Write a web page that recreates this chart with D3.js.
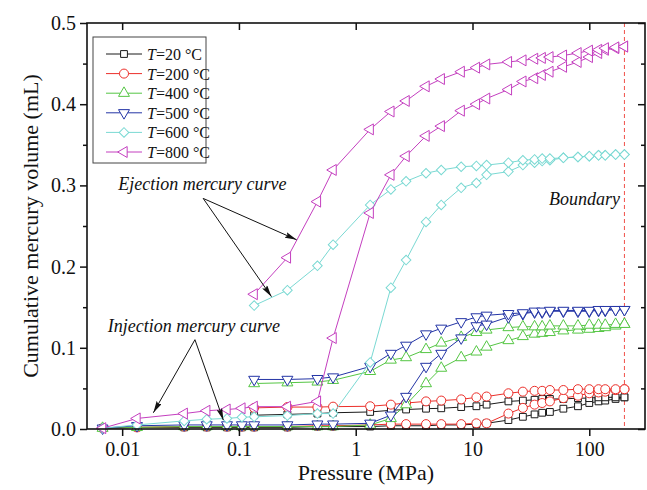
<!DOCTYPE html>
<html>
<head>
<meta charset="utf-8">
<script src="https://cdn.jsdelivr.net/npm/d3@7"></script>
<style>
  body { margin: 0; background: #fff; }
  svg text { font-family: "Liberation Serif", "Times New Roman"; fill: #111; }
</style>
</head>
<body>
<div class="chart"></div>
<script>
// Pressure steps (MPa): extra low steps only exist on the injection run
var pressureLow = [0.0068, 0.0134, 0.034, 0.053, 0.079, 0.106];
var pressureHigh = [0.135, 0.26, 0.47, 0.64, 1.33, 2.0, 2.7, 4.0, 5.4, 8.0, 10.8, 13.2,
  20.3, 27, 34, 39.5, 46, 60, 80, 100, 120, 137, 168, 200];

// Injection (intrusion) volumes, mL, one value per low + high pressure
var injection20 = [0.001, 0.002, 0.002, 0.002, 0.002, 0.002,
  0.002, 0.002, 0.003, 0.003, 0.003, 0.004, 0.004, 0.004, 0.005, 0.005, 0.006, 0.007,
  0.011, 0.015, 0.018, 0.020, 0.021, 0.025, 0.028, 0.032, 0.034, 0.035, 0.037, 0.039];
var injection200 = [0.001, 0.002, 0.003, 0.003, 0.003, 0.003,
  0.003, 0.003, 0.004, 0.004, 0.005, 0.006, 0.006, 0.006, 0.006, 0.006, 0.007, 0.007,
  0.019, 0.026, 0.030, 0.032, 0.034, 0.038, 0.041, 0.044, 0.045, 0.046, 0.048, 0.049];
var injection400 = [0.001, 0.002, 0.003, 0.003, 0.003, 0.003,
  0.003, 0.003, 0.003, 0.003, 0.005, 0.013, 0.030, 0.056, 0.075, 0.088, 0.095, 0.101,
  0.109, 0.114, 0.117, 0.118, 0.119, 0.121, 0.122, 0.123, 0.124, 0.125, 0.127, 0.129];
var injection500 = [0.001, 0.004, 0.005, 0.005, 0.005, 0.005,
  0.005, 0.005, 0.006, 0.006, 0.007, 0.017, 0.040, 0.077, 0.093, 0.112, 0.127, 0.129,
  0.138, 0.142, 0.144, 0.144, 0.145, 0.145, 0.145, 0.145, 0.146, 0.146, 0.147, 0.147];
var injection600 = [0.001, 0.005, 0.010, 0.012, 0.013, 0.0145,
  0.015, 0.0165, 0.019, 0.019, 0.082, 0.174, 0.208, 0.255, 0.276, 0.297, 0.303, 0.313,
  0.317, 0.325, 0.328, 0.330, 0.331, 0.334, 0.335, 0.336, 0.337, 0.337, 0.338, 0.338];
var injection800 = [0.001, 0.013, 0.019, 0.0225, 0.024, 0.0255,
  0.0275, 0.0275, 0.034, 0.112, 0.266, 0.313, 0.336, 0.361, 0.373, 0.392, 0.400, 0.407,
  0.418, 0.428, 0.432, 0.436, 0.440, 0.446, 0.452, 0.458, 0.463, 0.467, 0.469, 0.471];

// Ejection (extrusion) volumes, mL, one value per high pressure
var ejection20 = [0.017, 0.018, 0.019, 0.020, 0.021, 0.023, 0.024, 0.025, 0.0255, 0.027, 0.028, 0.030,
  0.034, 0.035, 0.036, 0.037, 0.037, 0.037, 0.038, 0.038, 0.039, 0.039, 0.039, 0.039];
var ejection200 = [0.026, 0.027, 0.027, 0.0275, 0.028, 0.030, 0.032, 0.034, 0.035, 0.0365, 0.039, 0.040,
  0.044, 0.046, 0.047, 0.047, 0.048, 0.048, 0.049, 0.049, 0.049, 0.049, 0.049, 0.049];
var ejection400 = [0.056, 0.057, 0.058, 0.060, 0.071, 0.085, 0.088, 0.098, 0.106, 0.113, 0.119, 0.122,
  0.125, 0.126, 0.126, 0.126, 0.127, 0.127, 0.127, 0.128, 0.128, 0.128, 0.129, 0.129];
var ejection500 = [0.061, 0.061, 0.062, 0.064, 0.077, 0.093, 0.103, 0.117, 0.124, 0.132, 0.138, 0.140,
  0.142, 0.143, 0.145, 0.145, 0.146, 0.146, 0.146, 0.146, 0.147, 0.147, 0.147, 0.147];
var ejection600 = [0.152, 0.171, 0.201, 0.227, 0.276, 0.295, 0.305, 0.315, 0.319, 0.323, 0.324, 0.325,
  0.328, 0.331, 0.332, 0.333, 0.333, 0.334, 0.335, 0.336, 0.337, 0.337, 0.338, 0.338];
var ejection800 = [0.166, 0.211, 0.280, 0.319, 0.369, 0.391, 0.404, 0.422, 0.431, 0.440, 0.445, 0.449,
  0.452, 0.454, 0.456, 0.457, 0.458, 0.460, 0.463, 0.466, 0.467, 0.469, 0.470, 0.471];

var temperatures = ["20", "200", "400", "500", "600", "800"];
var xTicks = [0.01, 0.1, 1, 10, 100];
var yTicks = [0, 0.1, 0.2, 0.3, 0.4, 0.5];
var yMinorTicks = [0.05, 0.15, 0.25, 0.35, 0.45];
var boundaryPressure = 200;

var serif = '"Liberation Serif", "Times New Roman"';

var svgWidth = 647;
var svgHeight = 490;

var margin = {
  top: 23,
  right: 2,
  bottom: 61,
  left: 87
};

var width = svgWidth - margin.left - margin.right;
var height = svgHeight - margin.top - margin.bottom;

var svg = d3.select(".chart")
  .append("svg")
  .attr("width", svgWidth)
  .attr("height", svgHeight)
  .style("font-family", serif);

var chartGroup = svg.append("g")
  .attr("transform", `translate(${margin.left}, ${margin.top})`);

var xScale = d3.scaleLog().domain([0.005, 300]).range([0, width]);
var yScale = d3.scaleLinear().domain([0, 0.5]).range([height, 0]);

var colors = ["#1a1a1a", "#ec2f2a", "#55c644", "#2435a6", "#7ad9d3", "#c43fbf"];
var injections = [injection20, injection200, injection400, injection500, injection600, injection800];
var ejections = [ejection20, ejection200, ejection400, ejection500, ejection600, ejection800];
var pressureInjection = pressureLow.concat(pressureHigh);

// marker shape for each temperature
function markerPath(i) {
  if (i == 0) return d3.symbol().type(d3.symbolSquare).size(46)();
  if (i == 1) return d3.symbol().type(d3.symbolCircle).size(64)();
  if (i == 4) return d3.symbol().type(d3.symbolSquare).size(46)();
  return d3.symbol().type(d3.symbolTriangle).size(52)();
}
function markerRotate(i) {
  if (i == 3) return 180;
  if (i == 4) return 45;
  if (i == 5) return -90;
  return 0;
}

// arrow head
svg.append("defs").append("marker")
  .attr("id", "arrow")
  .attr("markerUnits", "userSpaceOnUse")
  .attr("viewBox", "0 0 12 6")
  .attr("refX", 12)
  .attr("refY", 3)
  .attr("markerWidth", 12)
  .attr("markerHeight", 6)
  .attr("orient", "auto")
  .append("path")
  .attr("d", "M0,0 L12,3 L0,6 L2,3 Z")
  .attr("fill", "#111");

// boundary line
chartGroup.append("line")
  .attr("x1", xScale(boundaryPressure))
  .attr("x2", xScale(boundaryPressure))
  .attr("y1", 0)
  .attr("y2", height)
  .attr("stroke", "#f0504a")
  .attr("stroke-width", 1)
  .attr("stroke-dasharray", "4,3");

var line = d3.line()
  .x(d => xScale(d[0]))
  .y(d => yScale(d[1]));

// draw the curves: injection then ejection for each temperature
temperatures.forEach(function (t, i) {
  var curves = [
    d3.zip(pressureInjection, injections[i]),
    d3.zip(pressureHigh, ejections[i])
  ];
  curves.forEach(function (pts) {
    chartGroup.append("path")
      .datum(pts)
      .attr("d", line)
      .attr("fill", "none")
      .attr("stroke", colors[i])
      .attr("stroke-width", 1);

    chartGroup.selectAll(null)
      .data(pts)
      .enter()
      .append("path")
      .attr("d", markerPath(i))
      .attr("transform", d => `translate(${xScale(d[0])},${yScale(d[1])}) rotate(${markerRotate(i)})`)
      .attr("fill", "white")
      .attr("stroke", colors[i])
      .attr("stroke-width", 1);
  });
});

// axes
var bottomAxis = d3.axisBottom(xScale).tickValues(xTicks)
  .tickFormat(d3.format("~g")).tickSize(7).tickPadding(6);
var leftAxis = d3.axisLeft(yScale).tickValues(yTicks)
  .tickFormat(d3.format(".1f")).tickSize(7).tickPadding(4);

chartGroup.append("g")
  .attr("transform", `translate(0, ${height})`)
  .call(bottomAxis);

chartGroup.append("g")
  .call(leftAxis);

chartGroup.append("g")
  .call(d3.axisLeft(yScale).tickValues(yMinorTicks).tickSize(4).tickFormat(""));

// top and right frame ticks point inward
chartGroup.append("g")
  .call(d3.axisBottom(xScale).tickValues(xTicks).tickSize(7).tickFormat(""));
chartGroup.append("g")
  .attr("transform", `translate(${width}, 0)`)
  .call(d3.axisRight(yScale).tickValues(yTicks).tickSize(-7).tickFormat(""));
chartGroup.append("g")
  .attr("transform", `translate(${width}, 0)`)
  .call(d3.axisRight(yScale).tickValues(yMinorTicks).tickSize(-4).tickFormat(""));

chartGroup.selectAll(".domain").remove();
chartGroup.selectAll("g").attr("font-family", null);
chartGroup.selectAll(".tick line").attr("stroke", "#111").attr("stroke-width", 1.5);
chartGroup.selectAll(".tick text")
  .style("font-family", serif)
  .style("font-size", "20px")
  .attr("fill", "#111");

// frame
chartGroup.append("rect")
  .attr("width", width)
  .attr("height", height)
  .attr("fill", "none")
  .attr("stroke", "#111")
  .attr("stroke-width", 1.6);

// axis titles
chartGroup.append("text")
  .attr("x", width / 2)
  .attr("y", height + 51)
  .attr("text-anchor", "middle")
  .style("font-family", serif)
  .style("font-size", "22px")
  .text("Pressure (MPa)");

chartGroup.append("text")
  .attr("transform", "rotate(-90)")
  .attr("x", 0 - height / 2)
  .attr("y", -49)
  .attr("text-anchor", "middle")
  .style("font-family", serif)
  .style("font-size", "22px")
  .text("Cumulative mercury volume (mL)");

// legend
var legend = chartGroup.append("g")
  .attr("transform", "translate(6, 14)");

legend.append("rect")
  .attr("width", 113)
  .attr("height", 126)
  .attr("fill", "white")
  .attr("stroke", "#444")
  .attr("stroke-width", 1);

temperatures.forEach(function (t, i) {
  var row = legend.append("g")
    .attr("transform", `translate(0, ${17 + i * 19.6})`);
  row.append("line")
    .attr("x1", 13).attr("x2", 49)
    .attr("stroke", colors[i]).attr("stroke-width", 1);
  row.append("path")
    .attr("d", markerPath(i))
    .attr("transform", `translate(31,0) rotate(${markerRotate(i)})`)
    .attr("fill", "white")
    .attr("stroke", colors[i]);
  var label = row.append("text")
    .attr("x", 54)
    .attr("y", 6)
    .style("font-family", serif)
    .style("font-size", "16px");
  label.append("tspan").style("font-style", "italic").text("T");
  label.append("tspan").text("=" + t + " \u00B0C");
});

// annotations (anchored in data units)
function annotate(text, textAt, from, tips) {
  chartGroup.append("text")
    .attr("x", xScale(textAt[0]))
    .attr("y", yScale(textAt[1]))
    .attr("text-anchor", "middle")
    .style("font-family", serif)
    .style("font-size", "18px")
    .style("font-style", "italic")
    .text(text);
  tips.forEach(function (tip) {
    chartGroup.append("line")
      .attr("x1", xScale(from[0])).attr("y1", yScale(from[1]))
      .attr("x2", xScale(tip[0])).attr("y2", yScale(tip[1]))
      .attr("stroke", "#111")
      .attr("stroke-width", 1)
      .attr("marker-end", "url(#arrow)");
  });
}

annotate("Ejection mercury curve", [0.0487, 0.294], [0.0494, 0.284],
  [[0.312, 0.233], [0.19, 0.163]]);
annotate("Injection mercury curve", [0.0412, 0.119], [0.042, 0.110],
  [[0.0185, 0.020], [0.0735, 0.011]]);

chartGroup.append("text")
  .attr("x", xScale(183))
  .attr("y", yScale(0.276))
  .attr("text-anchor", "end")
  .style("font-family", serif)
  .style("font-size", "18px")
  .style("font-style", "italic")
  .text("Boundary");
</script>
</body>
</html>
